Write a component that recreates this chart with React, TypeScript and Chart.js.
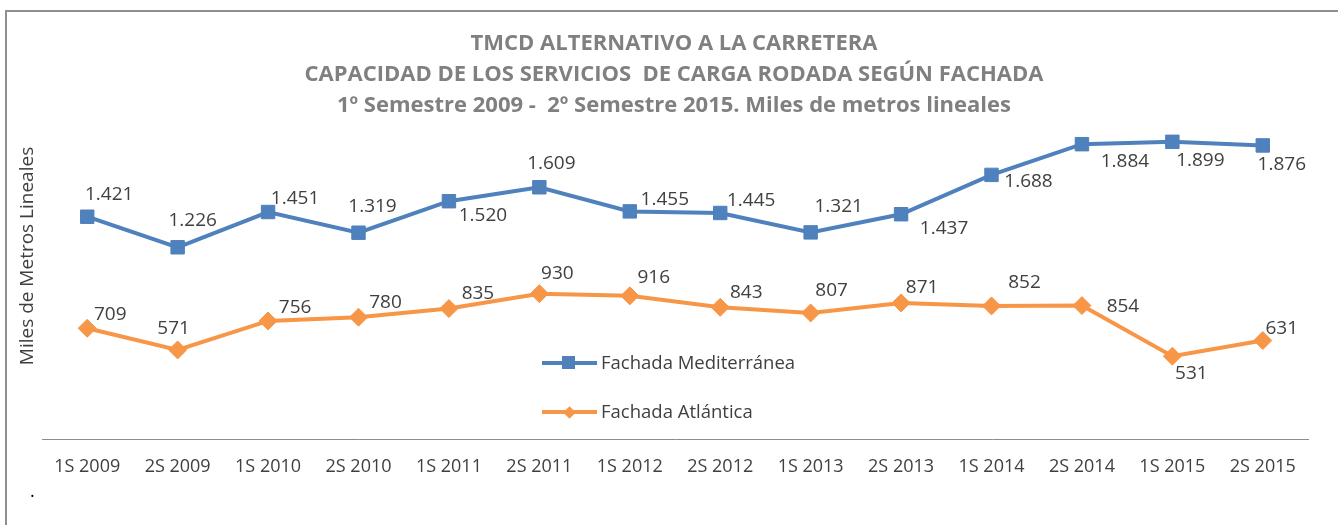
import React, { useEffect, useRef } from "react";
import { Chart, registerables } from "chart.js";

Chart.register(...registerables);

const categories = [
  "1S 2009", "2S 2009", "1S 2010", "2S 2010", "1S 2011", "2S 2011", "1S 2012",
  "2S 2012", "1S 2013", "2S 2013", "1S 2014", "2S 2014", "1S 2015", "2S 2015",
];
const mediterranea = [1421, 1226, 1451, 1319, 1520, 1609, 1455, 1445, 1321, 1437, 1688, 1884, 1899, 1876];
const atlantica = [709, 571, 756, 780, 835, 930, 916, 843, 807, 871, 852, 854, 531, 631];
const seriesNames = ["Fachada Mediterránea", "Fachada Atlántica"];
const titleLines = [
  "TMCD ALTERNATIVO A LA CARRETERA",
  "CAPACIDAD DE LOS SERVICIOS  DE CARGA RODADA SEGÚN FACHADA",
  "1º Semestre 2009 -  2º Semestre 2015. Miles de metros lineales",
];
const yAxisTitle = "Miles de Metros Lineales";
const yMin = 0;
const yMax = 2000;

// label placement (offset from the marker, px) — styling only
const medLabelOffsets = [
  [22, -22], [15, -27], [27, -13], [14, -26], [34, 14], [12, -24], [35, -12],
  [31, -12], [28, -26], [43, 14], [37, 7], [43, 17], [28, 19], [19, 19],
];
const atlLabelOffsets = [
  [23, -14], [-4, -21], [27, -13], [27, -15], [29, -15], [18, -20], [24, -18],
  [26, -15], [21, -22], [21, -15], [33, -23], [41, 1], [19, 17], [19, -12],
];

const BLUE = "#4f81bd";
const ORANGE = "#f79646";
const TEXT = "#404040";
const TITLE_COLOR = "#808080";
const FONT = "'Open Sans', sans-serif";

const fmt = (v: number) => String(v).replace(/\B(?=(\d{3})+(?!\d))/g, ".");

const offsetsByDataset = [medLabelOffsets, atlLabelOffsets];

const valueLabels = {
  id: "valueLabels",
  afterDatasetsDraw(chart: any) {
    const ctx = chart.ctx;
    ctx.save();
    ctx.font = `19px ${FONT}`;
    ctx.fillStyle = TEXT;
    ctx.textAlign = "center";
    ctx.textBaseline = "middle";
    chart.data.datasets.forEach((ds: any, i: number) => {
      const meta = chart.getDatasetMeta(i);
      const offs = offsetsByDataset[i];
      meta.data.forEach((el: any, j: number) => {
        const [dx, dy] = offs[j];
        ctx.fillText(fmt(ds.data[j]), el.x + dx, el.y + dy);
      });
    });
    ctx.restore();
  },
};

// Title and rotated axis title, drawn where the reference has them
const headings = {
  id: "headings",
  afterDraw(chart: any) {
    const ctx = chart.ctx;
    ctx.save();
    ctx.fillStyle = TITLE_COLOR;
    ctx.font = `bold 22px ${FONT}`;
    ctx.textAlign = "center";
    ctx.textBaseline = "middle";
    titleLines.forEach((line, i) => {
      ctx.fillText(line, 674, 44 + i * 31);
    });
    ctx.fillStyle = TEXT;
    ctx.font = `19px ${FONT}`;
    ctx.translate(28, 256);
    ctx.rotate(-Math.PI / 2);
    ctx.fillText(yAxisTitle, 0, 0);
    ctx.restore();
  },
};

export default function App() {
  const canvasRef = useRef<HTMLCanvasElement | null>(null);

  useEffect(() => {
    if (!canvasRef.current) return;
    const chart = new Chart(canvasRef.current, {
      type: "line",
      data: {
        labels: categories,
        datasets: [
          {
            label: seriesNames[0],
            data: mediterranea,
            borderColor: BLUE,
            backgroundColor: BLUE,
            borderWidth: 4,
            pointStyle: "rect",
            pointRadius: 9.5,
            pointBorderWidth: 1,
            pointBackgroundColor: BLUE,
            pointBorderColor: BLUE,
            tension: 0,
          },
          {
            label: seriesNames[1],
            data: atlantica,
            borderColor: ORANGE,
            backgroundColor: ORANGE,
            borderWidth: 4,
            pointStyle: "rectRot",
            pointRadius: 9,
            pointBorderWidth: 1,
            pointBackgroundColor: ORANGE,
            pointBorderColor: ORANGE,
            tension: 0,
          },
        ],
      },
      options: {
        animation: false,
        responsive: true,
        maintainAspectRatio: false,
        layout: { padding: { left: 42, right: 30, top: 126, bottom: 30 } },
        plugins: {
          legend: { display: false },
          tooltip: { enabled: false },
          title: { display: false },
        },
        scales: {
          x: {
            type: "category",
            offset: true,
            grid: { display: true, drawOnChartArea: false, drawTicks: false },
            border: { display: true, color: "#8c8c8c", width: 1 },
            ticks: {
              color: TEXT,
              font: { family: FONT, size: 18 },
              padding: 17,
              maxRotation: 0,
              autoSkip: false,
            },
          },
          y: {
            min: yMin,
            max: yMax,
            grid: { display: false, drawTicks: false },
            border: { display: false },
            ticks: { display: false },
            title: { display: false },
          },
        },
      },
      plugins: [valueLabels, headings],
    });
    return () => chart.destroy();
  }, []);

  const legendText: React.CSSProperties = {
    position: "absolute",
    left: 601,
    fontFamily: FONT,
    fontSize: 18.5,
    color: TEXT,
    lineHeight: "24px",
    whiteSpace: "nowrap",
  };

  return (
    <div style={{ position: "absolute", left: 0, top: 0, width: 1338, height: 525, background: "#fff", overflow: "hidden" }}>
      <div style={{ position: "absolute", left: 0, top: 0, width: 1338, height: 525 }}>
        <canvas ref={canvasRef} />
      </div>
      <div style={{ position: "absolute", left: 5, top: 10, width: 1340, height: 530, borderTop: "2px solid #8f8f8f", borderLeft: "2px solid #8f8f8f", pointerEvents: "none" }} />
      {/* legend */}
      <div style={{ position: "absolute", left: 542, top: 361, width: 55, height: 4, background: BLUE }} />
      <div style={{ position: "absolute", left: 562, top: 356, width: 13, height: 13, background: BLUE }} />
      <div style={{ ...legendText, top: 350 }}>{seriesNames[0]}</div>
      <div style={{ position: "absolute", left: 542, top: 410, width: 55, height: 4, background: ORANGE }} />
      <div style={{ position: "absolute", left: 564.5, top: 407.5, width: 9, height: 9, background: ORANGE, transform: "rotate(45deg)" }} />
      <div style={{ ...legendText, top: 399 }}>{seriesNames[1]}</div>
      <div style={{ position: "absolute", left: 30, top: 480, fontFamily: FONT, fontSize: 18, color: "#000", lineHeight: "20px" }}>.</div>
    </div>
  );
}
